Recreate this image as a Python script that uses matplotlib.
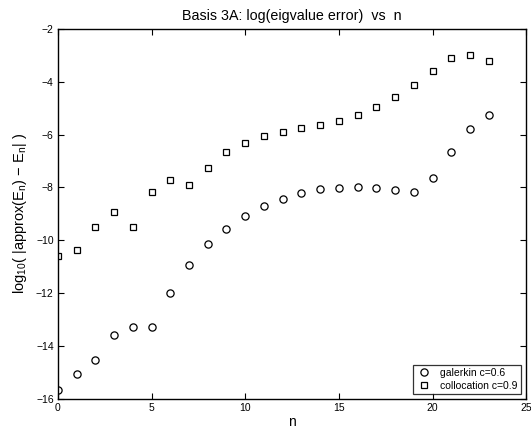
import matplotlib
matplotlib.use("Agg")
import matplotlib.pyplot as plt

n = list(range(24))
galerkin = [-15.66, -15.05, -14.52, -13.57, -13.29, -13.28, -11.99, -10.92, -10.14, -9.56,
            -9.08, -8.70, -8.42, -8.21, -8.07, -8.01, -7.99, -8.02, -8.10, -8.17,
            -7.64, -6.67, -5.78, -5.27]
collocation = [-10.58, -10.37, -9.50, -8.94, -9.48, -8.16, -7.73, -7.89, -7.27, -6.65,
               -6.30, -6.06, -5.89, -5.76, -5.62, -5.47, -5.25, -4.95, -4.57, -4.12,
               -3.60, -3.12, -3.00, -3.21]
xticks = [0, 5, 10, 15, 20, 25]
yticks = [-16, -14, -12, -10, -8, -6, -4, -2]

plt.rcParams['font.family'] = ['Liberation Sans', 'DejaVu Sans']
plt.rcParams['mathtext.fontset'] = 'custom'
plt.rcParams['mathtext.rm'] = 'Liberation Sans'
plt.rcParams['mathtext.it'] = 'Liberation Sans'

fig = plt.figure(figsize=(5.31, 4.30), dpi=100)
ax = fig.add_axes([0.109, 0.072, 0.882, 0.861])
ax.plot(n, galerkin, linestyle='none', marker='o', markersize=5.2,
        markerfacecolor='none', markeredgecolor='black', markeredgewidth=0.9,
        label='galerkin c=0.6')
ax.plot(n, collocation, linestyle='none', marker='s', markersize=4.3,
        markerfacecolor='none', markeredgecolor='black', markeredgewidth=0.9,
        label='collocation c=0.9')
ax.set_xlim(0, 25)
ax.set_ylim(-16, -2)
ax.set_xticks(xticks)
ax.set_yticks(yticks)
ax.tick_params(direction='in', length=4, width=0.8, labelsize=7.5, top=True, right=True,
               labeltop=False, labelright=False, pad=3)
for s in ax.spines.values():
    s.set_linewidth(1.0)
ax.set_title('Basis 3A: log(eigvalue error)  vs  n', fontsize=10.3, pad=6)
ax.set_xlabel('n', fontsize=10, labelpad=1)
ax.set_ylabel(r'log$_{\mathrm{10}}$( |approx(E$_{\mathrm{n}}$) $-$ E$_{\mathrm{n}}$| )',
              fontsize=10.5, labelpad=5)
leg = ax.legend(loc='lower right', fontsize=7.5, frameon=True, fancybox=False,
                edgecolor='black', borderpad=0.3, labelspacing=0.25, handletextpad=0.8,
                handlelength=1.5, borderaxespad=0.5)
leg.get_frame().set_linewidth(0.9)
fig.savefig('out.png', dpi=100)
